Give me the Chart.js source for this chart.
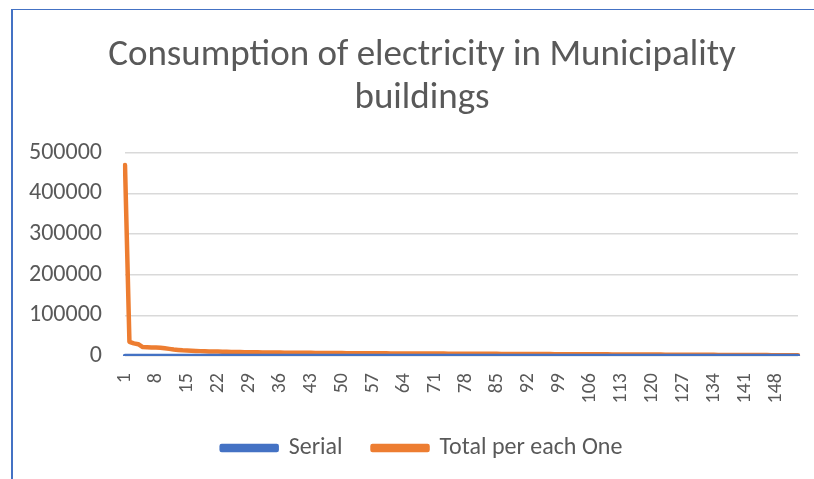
<!DOCTYPE html>
<html>
<head>
<meta charset="utf-8">
<script src="https://cdn.jsdelivr.net/npm/chart.js@4/dist/chart.umd.min.js"></script>
<style>
  html, body { margin: 0; padding: 0; background: #fff; }
  #wrap { position: relative; width: 814px; height: 479px; overflow: hidden; }
  #frame { position: absolute; left: 11px; top: 9px; width: 820px; height: 480px;
           border-left: 2px solid #4472C4; border-top: 1.5px solid #4472C4; box-sizing: border-box; }
  canvas { position: absolute; left: 0; top: 0; }
</style>
</head>
<body>
<div id="wrap">
  <div id="frame"></div>
  <canvas id="c" width="814" height="479"></canvas>
</div>
<script>
const titleLines = ["Consumption of electricity in Municipality", "buildings"];
const seriesNames = ["Serial", "Total per each One"];
const categories = [1,2,3,4,5,6,7,8,9,10,11,12,13,14,15,16,17,18,19,20,21,22,23,24,25,26,27,28,29,30,31,32,33,34,35,36,37,38,39,40,41,42,43,44,45,46,47,48,49,50,51,52,53,54,55,56,57,58,59,60,61,62,63,64,65,66,67,68,69,70,71,72,73,74,75,76,77,78,79,80,81,82,83,84,85,86,87,88,89,90,91,92,93,94,95,96,97,98,99,100,101,102,103,104,105,106,107,108,109,110,111,112,113,114,115,116,117,118,119,120,121,122,123,124,125,126,127,128,129,130,131,132,133,134,135,136,137,138,139,140,141,142,143,144,145,146,147,148,149,150,151,152,153];
const serial = [1,2,3,4,5,6,7,8,9,10,11,12,13,14,15,16,17,18,19,20,21,22,23,24,25,26,27,28,29,30,31,32,33,34,35,36,37,38,39,40,41,42,43,44,45,46,47,48,49,50,51,52,53,54,55,56,57,58,59,60,61,62,63,64,65,66,67,68,69,70,71,72,73,74,75,76,77,78,79,80,81,82,83,84,85,86,87,88,89,90,91,92,93,94,95,96,97,98,99,100,101,102,103,104,105,106,107,108,109,110,111,112,113,114,115,116,117,118,119,120,121,122,123,124,125,126,127,128,129,130,131,132,133,134,135,136,137,138,139,140,141,142,143,144,145,146,147,148,149,150,151,152,153];
const totalPerEach = [
  470000, 35000, 31000, 29000, 22000, 21500, 21000, 21000, 20500, 19000,
  17500, 16000, 15000, 14000, 13500, 13000, 12500, 12000, 11500, 11200,
  11000, 10800, 10500, 10300, 10100, 9900, 9700, 9500, 9300, 9200,
  9000, 8900, 8800, 8600, 8500, 8400, 8300, 8200, 8100, 8000,
  7900, 7800, 7700, 7600, 7500, 7400, 7300, 7250, 7200, 7100,
  7000, 6950, 6900, 6850, 6800, 6700, 6650, 6600, 6550, 6500,
  6450, 6400, 6350, 6300, 6250, 6200, 6150, 6100, 6050, 6000,
  5950, 5900, 5850, 5800, 5750, 5700, 5650, 5600, 5550, 5500,
  5450, 5400, 5350, 5300, 5250, 5200, 5150, 5100, 5050, 5000,
  4950, 4900, 4850, 4800, 4750, 4700, 4650, 4600, 4550, 4500,
  4450, 4400, 4350, 4300, 4250, 4200, 4150, 4100, 4050, 4000,
  3950, 3900, 3850, 3800, 3750, 3700, 3650, 3600, 3550, 3500,
  3450, 3400, 3350, 3300, 3250, 3200, 3150, 3100, 3050, 3000,
  2950, 2900, 2850, 2800, 2750, 2700, 2650, 2600, 2550, 2500,
  2450, 2400, 2350, 2300, 2250, 2200, 2150, 2100, 2050, 2000, 1900, 1800, 1700
];
const yTicks = [0, 100000, 200000, 300000, 400000, 500000];
const labelEvery = 7;

const FONT = "Calibri, Carlito, 'Liberation Sans', Arial, sans-serif";
const TEXT = '#595959';

new Chart(document.getElementById('c'), {
  type: 'line',
  data: {
    labels: categories,
    datasets: [
      { label: seriesNames[0], data: serial, borderColor: '#4472C4', backgroundColor: '#4472C4',
        borderWidth: 4.5, pointRadius: 0, borderCapStyle: 'round', borderJoinStyle: 'round', tension: 0 },
      { label: seriesNames[1], data: totalPerEach, borderColor: '#ED7D31', backgroundColor: '#ED7D31',
        borderWidth: 4.5, pointRadius: 0, borderCapStyle: 'round', borderJoinStyle: 'round', tension: 0 }
    ]
  },
  options: {
    responsive: false,
    animation: false,
    layout: { padding: { left: 46, right: 16, top: 14, bottom: 9 } },
    plugins: {
      title: { display: true, text: titleLines, color: TEXT,
               font: { family: FONT, size: 37, weight: 'normal', lineHeight: 1.16 },
               padding: { top: 20, bottom: 33 } },
      legend: { position: 'bottom',
                labels: { color: TEXT, font: { family: FONT, size: 24 }, boxWidth: 55, boxHeight: 4, padding: 30 } },
      tooltip: { enabled: false }
    },
    scales: {
      x: {
        offset: false,
        grid: { display: false, drawTicks: false },
        border: { display: false },
        ticks: { autoSkip: false, maxRotation: 90, minRotation: 90, padding: 17, color: TEXT,
                 font: { family: FONT, size: 20 },
                 callback: function(v, i) { return (i % labelEvery === 0) ? String(categories[i]) : ''; } },
        afterFit: function(s) { s.height = 50; s.paddingLeft = 0; s.paddingRight = 0; }
      },
      y: {
        min: yTicks[0], max: yTicks[yTicks.length - 1],
        grid: { color: '#D9D9D9', lineWidth: 1.5, drawTicks: false },
        border: { display: false },
        ticks: { stepSize: 100000, padding: 23, color: TEXT, font: { family: FONT, size: 24 },
                 callback: function(v) { return String(v); } },
        afterFit: function(s) { s.width = 79; s._computeLabelArea = function() { return undefined; }; }
      }
    }
  }
});
</script>
</body>
</html>
